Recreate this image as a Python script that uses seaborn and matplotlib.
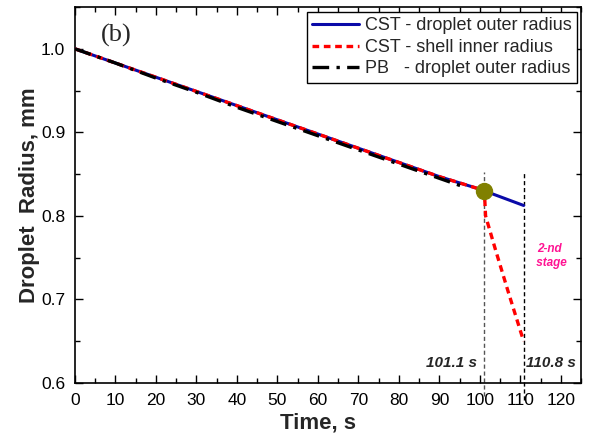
import matplotlib
matplotlib.use("Agg")
import matplotlib.pyplot as plt
import seaborn as sns
import numpy as np
import pandas as pd
from matplotlib.ticker import MultipleLocator

# ---- data ----
cst_outer_t = [0, 10, 20, 30, 40, 50, 60, 70, 80, 90, 100, 101.1, 110.8]
cst_outer_r = [1.0, 0.983, 0.966, 0.949, 0.932, 0.915, 0.898, 0.881, 0.864, 0.847, 0.832, 0.830, 0.8125]

cst_inner_t = [0, 10, 20, 30, 40, 50, 60, 70, 80, 90, 100, 101.1, 101.4, 104, 107, 110.8]
cst_inner_r = [1.0, 0.983, 0.966, 0.949, 0.932, 0.915, 0.898, 0.881, 0.864, 0.847, 0.832, 0.830, 0.800, 0.757, 0.709, 0.650]

pb_t = [0, 10, 20, 30, 40, 50, 60, 70, 80, 90, 96.5]
pb_r = [1.0, 0.983, 0.965, 0.948, 0.930, 0.913, 0.896, 0.879, 0.862, 0.845, 0.834]

transition_t = [101.1]
transition_r = [0.830]

stage_times = [101.1, 110.8]
stage_labels = ["101.1 s", "110.8 s"]

legend_labels = ["CST - droplet outer radius", "CST - shell inner radius", "PB   - droplet outer radius"]

# ---- style ----
sns.set_style("ticks")
plt.rcParams['font.family'] = ['Liberation Sans', 'DejaVu Sans']

fig = plt.figure(figsize=(5.9, 4.41), dpi=100)
ax = fig.add_axes([0.127, 0.1315, 0.858, 0.8525])

sns.lineplot(x=cst_outer_t, y=cst_outer_r, ax=ax, color="#0a0aa8", lw=2.2,
             estimator=None, sort=False, label=legend_labels[0], zorder=3)
sns.lineplot(x=cst_inner_t, y=cst_inner_r, ax=ax, color="#ff0000", lw=2.4,
             linestyle=(0, (2.0, 1.4)), estimator=None, sort=False,
             label=legend_labels[1], zorder=4)
sns.lineplot(x=pb_t, y=pb_r, ax=ax, color="black", lw=2.4,
             linestyle=(0, (5, 2.2, 1, 2.2)), estimator=None, sort=False,
             label=legend_labels[2], zorder=5)

# transition point
ax.plot(transition_t, transition_r, 'o', color="#808000", markersize=11.5, zorder=6)

# vertical stage lines
ax.plot([stage_times[0], stage_times[0]], [0.585, 0.852], color="#555555", lw=1.0,
        linestyle=(0, (3, 2)), clip_on=False, zorder=2)
ax.plot([stage_times[1], stage_times[1]], [0.580, 0.852], color="black", lw=1.0,
        linestyle=(0, (3, 2)), clip_on=False, zorder=2)

ax.text(99.3, 0.624, stage_labels[0], ha='right', va='center', fontsize=11,
        fontweight='bold', fontstyle='italic')
ax.text(111.3, 0.624, stage_labels[1], ha='left', va='center', fontsize=11,
        fontweight='bold', fontstyle='italic')
ax.text(117.2, 0.752, "2-nd\n stage", ha='center', va='center', fontsize=8.5,
        fontweight='bold', fontstyle='italic', color="#ff1493", linespacing=1.3)

ax.text(6.5, 1.016, "(b)", fontsize=19, family=['Liberation Serif', 'DejaVu Serif'],
        ha='left', va='center')

ax.set_xlim(0, 125)
ax.set_ylim(0.6, 1.05)
ax.xaxis.set_major_locator(MultipleLocator(10))
ax.xaxis.set_minor_locator(MultipleLocator(5))
ax.yaxis.set_major_locator(MultipleLocator(0.1))
ax.yaxis.set_minor_locator(MultipleLocator(0.05))
ax.yaxis.set_major_formatter(matplotlib.ticker.FormatStrFormatter('%.1f'))
ax.tick_params(which='both', direction='in', top=True, right=True, labelsize=12.5,
               colors='black')
ax.tick_params(which='major', length=6, width=1)
ax.tick_params(which='minor', length=3.5, width=1)
ax.tick_params(axis='x', which='major', pad=7.5)
ax.tick_params(axis='y', which='major', pad=7)
for s in ax.spines.values():
    s.set_visible(True)
    s.set_linewidth(1.2)
    s.set_color('black')

ax.set_xlabel("Time, s", fontsize=16, fontweight='bold', labelpad=3)
ax.set_ylabel("Droplet  Radius, mm", fontsize=16, fontweight='bold', labelpad=1)
ax.xaxis.label.set_x(0.48)

leg = ax.legend(loc='upper right', bbox_to_anchor=(0.978, 0.973),
                bbox_transform=fig.transFigure, fontsize=13, frameon=True,
                fancybox=False, framealpha=1, edgecolor='black',
                handlelength=2.6, handletextpad=0.3, labelspacing=0.25,
                borderpad=0.3, borderaxespad=0)
leg.get_frame().set_linewidth(1.0)

fig.savefig("out.png", dpi=100)
